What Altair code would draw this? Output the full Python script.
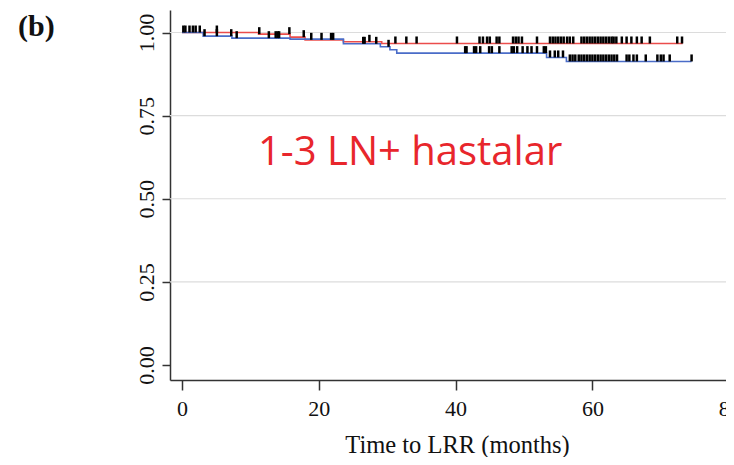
import altair as alt
import pandas as pd
import numpy as np

# Kaplan-Meier step curves (time in months, survival)
red_time = [0, 11.2, 15.8, 18.0, 23.6, 29.2, 73.2]
red_surv = [1.0, 0.995, 0.986, 0.978, 0.972, 0.967, 0.967]
blue_time = [0, 3.1, 7.3, 15.8, 23.6, 29.0, 30.4, 31.4, 53.3, 56.2, 74.5]
blue_surv = [1.0, 0.989, 0.983, 0.980, 0.966, 0.957, 0.948, 0.938, 0.925, 0.913, 0.913]

# censoring times
red_censor = [0.2, 0.5, 1.1, 1.6, 2.0, 2.6, 5.1, 11.3, 15.7, 17.8, 18.9, 20.4, 21.8, 22.1,
              27.4, 31.2, 32.8, 34.3, 40.2, 43.5, 44.0, 44.6, 45.0, 46.0, 46.4, 48.4, 48.8,
              49.2, 49.7, 51.9, 53.8, 54.2, 54.6, 55.0, 55.4, 55.8, 56.3, 56.7, 57.2, 58.4,
              58.8, 59.2, 59.6, 60.0, 60.4, 60.8, 61.2, 61.6, 62.0, 62.4, 62.8, 63.1, 63.5,
              64.3, 65.0, 65.7, 66.5, 67.2, 68.4, 72.4, 73.1]
blue_censor = [3.3, 5.1, 7.2, 8.0, 12.7, 13.7, 14.0, 14.2, 26.5, 26.7, 28.4, 30.2, 41.4, 41.6,
               42.7, 43.0, 43.6, 44.9, 45.3, 46.4, 48.2, 48.5, 49.0, 49.8, 50.5, 51.1, 51.9,
               52.9, 53.2, 53.8, 54.5, 55.0, 55.7, 56.7, 57.1, 57.5, 58.0, 58.4, 58.8, 59.2,
               59.6, 60.0, 60.4, 60.8, 61.2, 61.6, 62.0, 62.4, 62.8, 63.2, 63.6, 65.0, 65.4,
               66.0, 66.5, 67.8, 69.5, 70.0, 70.4, 71.3, 74.5]

grid_values = [0.25, 0.5, 0.75, 1.0]
x_ticks = [0, 20, 40, 60, 80]
y_ticks = [0, 0.25, 0.5, 0.75, 1.0]
group_names = ["red", "blue"]
group_colors = ["#EB4D4B", "#4A6CC8"]

annotation = "1-3 LN+ hastalar"
panel_label = "(b)"
x_title = "Time to LRR (months)"

# build tables
lines = pd.concat([
    pd.DataFrame({"t": red_time, "s": red_surv, "g": "red", "o": range(len(red_time))}),
    pd.DataFrame({"t": blue_time, "s": blue_surv, "g": "blue", "o": range(len(blue_time))}),
])


def lookup(times, survs, cens):
    idx = np.searchsorted(np.array(times), np.array(cens), side="right") - 1
    return [survs[i] for i in idx]


cens = pd.concat([
    pd.DataFrame({"t": red_censor, "s": lookup(red_time, red_surv, red_censor), "g": "red"}),
    pd.DataFrame({"t": blue_censor, "s": lookup(blue_time, blue_surv, blue_censor), "g": "blue"}),
])

xscale = alt.Scale(domain=[-1.75, 80.7], range=[0, 564], nice=False, zero=False)
yscale = alt.Scale(domain=[-0.0451, 1.0677], nice=False, zero=False)

xaxis = alt.Axis(values=x_ticks, format="d", grid=False,
                 labelFont="Liberation Serif", labelFontSize=22, labelColor="#111111",
                 labelPadding=8, tickSize=10, tickWidth=1.5, tickColor="#333333",
                 domainColor="#333333", domainWidth=1.5,
                 title=x_title, titleFont="Liberation Serif", titleFontSize=24.5,
                 titleFontWeight="normal", titleColor="#111111",
                 titleX=287, titleY=72, titleBaseline="alphabetic", titleAlign="center")
yaxis = alt.Axis(values=y_ticks, format=".2f", grid=False, title=None,
                 labelFont="Liberation Serif", labelFontSize=22, labelColor="#111111",
                 labelAngle=-90, labelAlign="center", labelBaseline="alphabetic",
                 labelPadding=9, tickSize=8, tickWidth=1.5, tickColor="#333333",
                 domainColor="#333333", domainWidth=1.5)

grid = alt.Chart(pd.DataFrame({"v": grid_values})).mark_rule(
    color="#DCDCDC", strokeWidth=1.2
).encode(y=alt.Y("v:Q", scale=yscale, axis=yaxis))

color = alt.Color("g:N", scale=alt.Scale(domain=group_names, range=group_colors), legend=None)

curve = alt.Chart(lines).mark_line(interpolate="step-after", strokeWidth=1.6).encode(
    x=alt.X("t:Q", scale=xscale, axis=xaxis),
    y=alt.Y("s:Q", scale=yscale),
    color=color,
    order="o:Q",
    detail="g:N",
)

ticks = alt.Chart(cens).mark_tick(orient="vertical", size=7, thickness=2.5,
                                   color="black", yOffset=-3.5, opacity=1).encode(
    x=alt.X("t:Q", scale=xscale),
    y=alt.Y("s:Q", scale=yscale),
)

ann = alt.Chart(pd.DataFrame({"txt": [annotation]})).mark_text(
    font="Open Sans", fontSize=40, color="#E8262C", align="left", baseline="alphabetic"
).encode(x=alt.value(88), y=alt.value(155), text="txt:N")

lab = alt.Chart(pd.DataFrame({"txt": [panel_label]})).mark_text(
    font="Liberation Serif", fontSize=30, fontWeight="bold", color="#111111",
    align="left", baseline="alphabetic"
).encode(x=alt.value(-152), y=alt.value(25.5), text="txt:N")

chart = alt.layer(grid, curve, ticks, ann, lab).properties(
    width=556, height=370,
    autosize=alt.AutoSizeParams(type="none"),
    padding={"left": 162, "top": 2, "right": 0, "bottom": 77},
    background="white",
).configure_view(stroke=None)

chart.save("out.html", embed_options={"renderer": "svg", "actions": False})
